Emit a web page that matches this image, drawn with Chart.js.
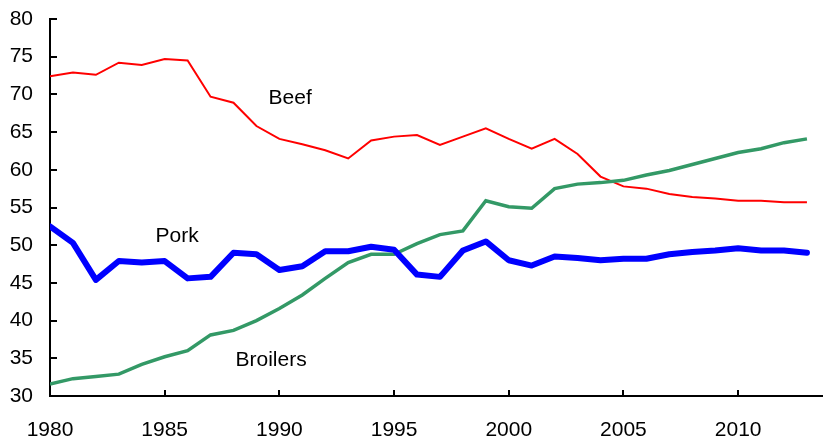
<!DOCTYPE html>
<html>
<head>
<meta charset="utf-8">
<script src="https://cdn.jsdelivr.net/npm/chart.js@4"></script>
<style>
  html, body { margin: 0; padding: 0; background: #fff; }
  #wrap { width: 823px; height: 441px; }
</style>
</head>
<body>
<div id="wrap"><canvas id="meatChart" width="823" height="441"></canvas></div>
<script>
// Per capita consumption, pounds
const years = [1980, 1981, 1982, 1983, 1984, 1985, 1986, 1987, 1988, 1989,
    1990, 1991, 1992, 1993, 1994, 1995, 1996, 1997, 1998, 1999,
    2000, 2001, 2002, 2003, 2004, 2005, 2006, 2007, 2008, 2009,
    2010, 2011, 2012, 2013];

const beef = [72.4, 72.9, 72.6, 74.2, 73.9, 74.7, 74.5, 69.7, 68.9, 65.8,
    64.1, 63.4, 62.6, 61.5, 63.9, 64.4, 64.6, 63.3, 64.4, 65.5,
    64.1, 62.8, 64.1, 62.1, 59.1, 57.8, 57.5, 56.8, 56.4, 56.2,
    55.9, 55.9, 55.7, 55.7];

const pork = [52.5, 50.3, 45.4, 47.9, 47.7, 47.9, 45.6, 45.8, 49.0, 48.8,
    46.7, 47.2, 49.2, 49.2, 49.8, 49.4, 46.1, 45.8, 49.3, 50.5,
    48.0, 47.3, 48.5, 48.3, 48.0, 48.2, 48.2, 48.8, 49.1, 49.3,
    49.6, 49.3, 49.3, 49.0];

const broilers = [31.6, 32.3, 32.6, 32.9, 34.2, 35.2, 36.0, 38.1, 38.7, 40.0,
    41.6, 43.4, 45.6, 47.7, 48.8, 48.8, 50.2, 51.4, 51.9, 55.9,
    55.1, 54.9, 57.5, 58.1, 58.3, 58.6, 59.3, 59.9, 60.7, 61.5,
    62.3, 62.8, 63.6, 64.1];

// Series labels placed inside the plot (x = year, y = pounds)
const seriesLabels = [
    { text: 'Beef', x: 1990.47, y: 69.5 },
    { text: 'Pork', x: 1985.54, y: 51.2 },
    { text: 'Broilers', x: 1989.64, y: 34.8 }
];

const yTicks = [30, 35, 40, 45, 50, 55, 60, 65, 70, 75, 80];
const xTicks = [1980, 1985, 1990, 1995, 2000, 2005, 2010];

const FONT = '"Liberation Sans", Arial, Helvetica, sans-serif';

function toPoints(values) {
    return years.map((yr, i) => ({ x: yr, y: values[i] }));
}

// Inward tick marks and text labels
const decorPlugin = {
    id: 'decor',
    afterDraw(chart) {
        const ctx = chart.ctx;
        const xs = chart.scales.x;
        const ys = chart.scales.y;
        const area = chart.chartArea;
        ctx.save();
        ctx.strokeStyle = '#000';
        ctx.lineWidth = 2;
        ctx.beginPath();
        yTicks.forEach(v => {
            const py = Math.round(ys.getPixelForValue(v));
            ctx.moveTo(area.left, py);
            ctx.lineTo(area.left + 7, py);
        });
        xTicks.forEach(v => {
            if (v === 1980) return;
            const px = Math.round(xs.getPixelForValue(v));
            ctx.moveTo(px, area.bottom);
            ctx.lineTo(px, area.bottom - 6);
        });
        ctx.stroke();

        ctx.fillStyle = '#000';
        ctx.font = '21px ' + FONT;
        ctx.textAlign = 'center';
        ctx.textBaseline = 'middle';
        seriesLabels.forEach(l => {
            ctx.fillText(l.text, xs.getPixelForValue(l.x), ys.getPixelForValue(l.y));
        });
        ctx.restore();
    }
};

const chart = new Chart(document.getElementById('meatChart'), {
    type: 'line',
    data: {
        datasets: [
            {
                label: 'Pork',
                data: toPoints(pork),
                borderColor: '#0000ff',
                borderWidth: 6,
                borderJoinStyle: 'round',
                borderCapStyle: 'round',
                pointRadius: 0,
                tension: 0
            },
            {
                label: 'Broilers',
                data: toPoints(broilers),
                borderColor: '#339966',
                borderWidth: 3.5,
                pointRadius: 0,
                tension: 0
            },
            {
                label: 'Beef',
                data: toPoints(beef),
                borderColor: '#ff0000',
                borderWidth: 2,
                pointRadius: 0,
                tension: 0
            }
        ]
    },
    options: {
        responsive: false,
        animation: false,
        layout: { padding: { top: 19, right: 0, left: 0, bottom: 0 } },
        plugins: {
            legend: { display: false },
            tooltip: { enabled: false }
        },
        scales: {
            x: {
                type: 'linear',
                min: 1980,
                max: 2013.7,
                afterBuildTicks: axis => {
                    axis.ticks = xTicks.map(v => ({ value: v }));
                },
                afterFit: scale => {
                    scale.height = 45;
                    scale.paddingLeft = 0;
                    scale.paddingRight = 0;
                },
                grid: { display: true, drawOnChartArea: false, drawTicks: false },
                border: { color: '#000', width: 2 },
                ticks: {
                    color: '#000',
                    padding: 22,
                    maxRotation: 0,
                    font: { family: FONT, size: 21 },
                    callback: v => String(v)
                }
            },
            y: {
                min: 30,
                max: 80,
                afterBuildTicks: axis => {
                    axis.ticks = yTicks.map(v => ({ value: v }));
                },
                afterFit: scale => {
                    scale.width = 50;
                    scale.paddingTop = 0;
                    scale.paddingBottom = 0;
                },
                grid: { display: true, drawOnChartArea: false, drawTicks: false },
                border: { color: '#000', width: 2 },
                ticks: {
                    color: '#000',
                    padding: 17,
                    font: { family: FONT, size: 21 }
                }
            }
        }
    },
    plugins: [decorPlugin]
});
</script>
</body>
</html>
